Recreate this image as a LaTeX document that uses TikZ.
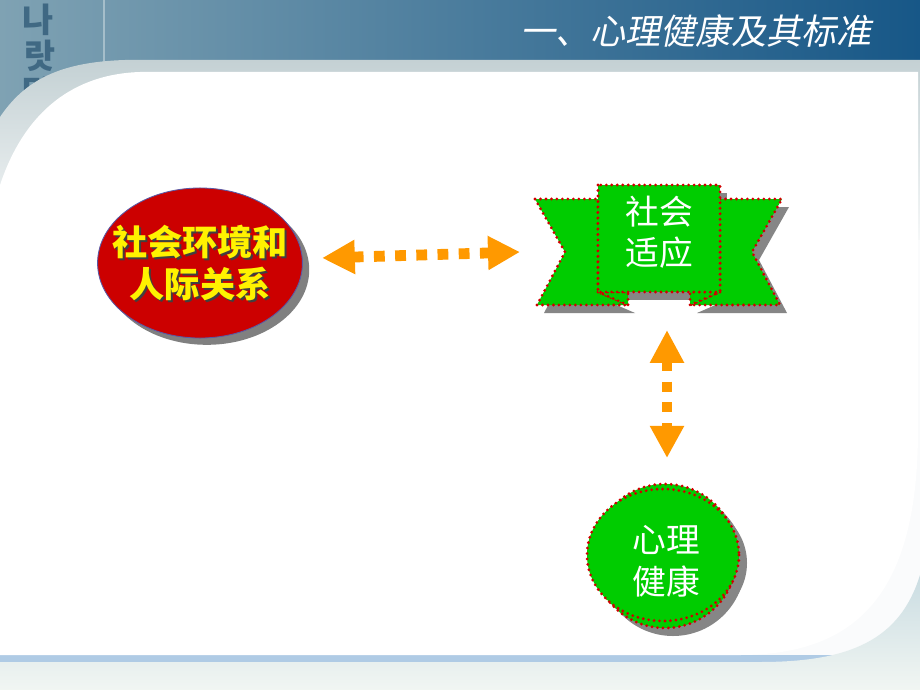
\documentclass[tikz,border=0pt]{standalone}
\usepackage{fontspec}
\setmainfont{Noto Sans CJK SC}
\newfontfamily\titlefont[FakeSlant=0.2]{Noto Sans CJK SC}
\newfontfamily\krfont{Noto Sans CJK KR}
\usetikzlibrary{shapes.geometric,shadows,arrows.meta}

\definecolor{hdrleft}{HTML}{7FA2B3}
\definecolor{hdrmid}{HTML}{3A86AF}
\definecolor{hdrright}{HTML}{175787}
\definecolor{bandgray}{HTML}{C4D1D4}
\definecolor{bandblue}{HTML}{AFCBE5}
\definecolor{footgreen}{HTML}{DCE8E0}
\definecolor{envred}{HTML}{CC0000}
\definecolor{leafgreen}{HTML}{00CC00}
\definecolor{dotred}{HTML}{D00000}
\definecolor{arrowange}{HTML}{FF9900}

\tikzset{
  reddots/.style={draw=dotred, line width=2.2pt, line cap=round, dash pattern=on 0pt off 3.9pt},
  greenpart/.style={fill=leafgreen, reddots},
  shadowpart/.style={fill=gray!95},
  krchar/.style={text=hdrright!70!black, opacity=0.55, inner sep=0pt, font=\krfont\bfseries\fontsize{24}{26}\selectfont},
  twoway/.style={draw=arrowange, line width=0.27cm, dash pattern=on 0.27cm off 0.26cm,
    {Triangle[width=0.8cm,length=0.82cm]}-{Triangle[width=0.8cm,length=0.8cm]}},
  cjktext/.style={align=center, inner sep=0pt, font=\fontsize{24}{29}\selectfont}
}

\begin{document}
\begin{tikzpicture}[x=0.025cm, y=-0.025cm]
\useasboundingbox (0,0) rectangle (920,690);

% page background
\fill[bandblue] (0,0) rectangle (920,690);
\shade[left color=hdrleft, middle color=hdrmid, right color=hdrright] (0,0) rectangle (920,140);
\draw[hdrleft!70!white, line width=1pt] (104,0) -- (104,62);
\node[krchar] (kr1) at (38,20) {나};
\node[krchar] (kr2) at (40,56) {랏};
\node[krchar] (kr3) at (38,93) {말};
\shade[top color=bandgray, bottom color=white!92!bandgray] (0,117) .. controls (25,80) and (60,62) .. (125,60) -- (920,60) -- (920,260) -- (0,260) -- cycle;
\fill[white!92!bandgray] (0,240) rectangle (920,655);
\shade[top color=footgreen!60!bandblue, bottom color=footgreen!40!white] (920,575) .. controls (900,640) and (850,662) .. (760,662) -- (0,662) -- (0,690) -- (920,690) -- cycle;
\fill[white] (0,185) .. controls (25,110) and (75,74) .. (140,72) -- (918,72) -- (918,430) .. controls (918,590) and (860,655) .. (740,655) -- (0,655) -- cycle;

% title
\node[anchor=east, text=white, inner sep=0pt, font=\titlefont\fontsize{25}{30}\selectfont] (title) at (872,31) {一、心理健康及其标准};

% social environment
\node[ellipse, minimum width=5.12cm, minimum height=3.75cm, fill=envred, draw=blue!30!gray, line width=0.6pt,
  drop shadow={shadow xshift=0.17cm, shadow yshift=-0.17cm, fill=gray, opacity=1}] (env) at (200,263) {};
\node[cjktext, text=black!75, font=\bfseries\fontsize{25}{30.5}\selectfont] (envshade) at (202,265) {社会环境和\\人际关系};
\node[cjktext, text=yellow, font=\bfseries\fontsize{25}{30.5}\selectfont] (envtext) at (200,263) {社会环境和\\人际关系};

% social adaptation ribbon
\begin{scope}[shift={(7,8)}]
\fill[shadowpart] (535,199) -- (598,199) -- (598,292) -- (628,305) -- (537,305) -- (565,252) -- cycle;
\fill[shadowpart] (720,199) -- (782,199) -- (752,252) -- (780,305) -- (690,305) -- (720,292) -- cycle;
\fill[shadowpart] (598,185) rectangle (720,292);
\end{scope}
\filldraw[greenpart] (535,199) -- (598,199) -- (598,292) -- (628,305) -- (537,305) -- (565,252) -- cycle;
\filldraw[greenpart] (720,199) -- (782,199) -- (752,252) -- (780,305) -- (690,305) -- (720,292) -- cycle;
\filldraw[greenpart] (598,292) -- (628,305) -- (628,292) -- cycle;
\filldraw[greenpart] (720,292) -- (690,305) -- (690,292) -- cycle;
\filldraw[greenpart] (598,185) rectangle (720,292);
\node[cjktext, text=white] (adapt) at (659,232) {社会\\适应};

% mental health
\fill[shadowpart] (673,564) circle [radius=72];
\fill[shadowpart] (671,563) ellipse [x radius=76, y radius=66];
\filldraw[greenpart] (665,556) circle [radius=72];
\filldraw[greenpart] (663,555) ellipse [x radius=76, y radius=66];
\node[cjktext, text=white, font=\fontsize{24}{30}\selectfont] (health) at (666,561) {心理\\健康};

% connectors
\coordinate (envE) at (322,258);
\coordinate (adaptW) at (520,252);
\coordinate (adaptS) at (667,330);
\coordinate (healthN) at (667,458);
\draw[twoway] (envE) -- (adaptW);
\draw[twoway, line width=0.25cm, dash pattern=on 0.25cm off 0.27cm] (adaptS) -- (healthN);
\end{tikzpicture}
\end{document}
